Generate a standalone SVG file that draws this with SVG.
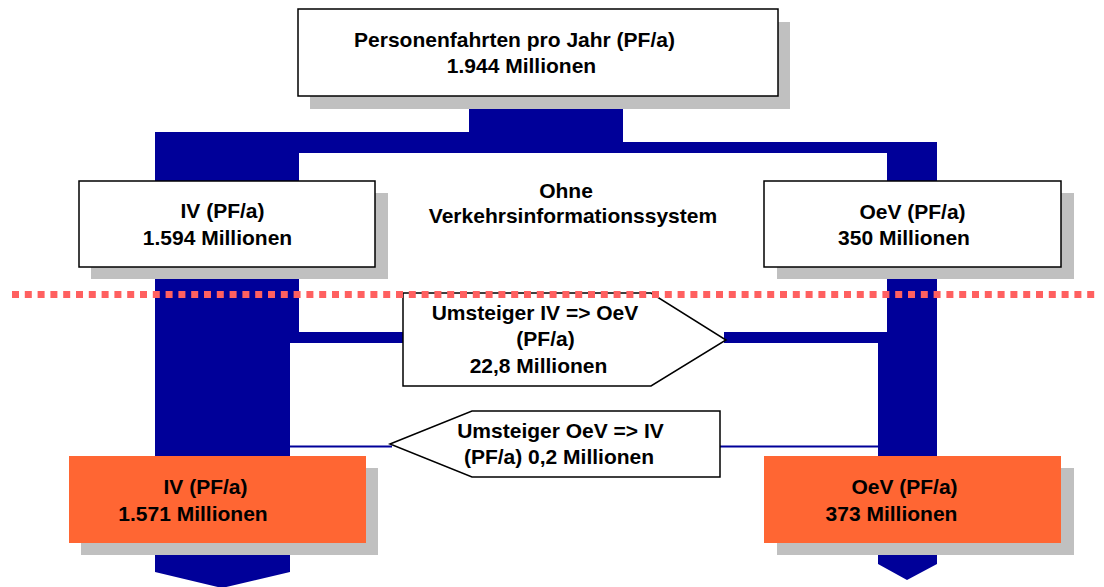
<svg xmlns="http://www.w3.org/2000/svg" width="1104" height="587" viewBox="0 0 1104 587">
<style>
.t{font-family:"Liberation Sans",Arial,sans-serif;font-weight:bold;font-size:21px;fill:#000;text-anchor:middle}
.box{fill:#fff;stroke:#000;stroke-width:1.5}
.res{fill:#FF6633;stroke:none}
.sh{fill:#C0C0C0}
.flow{fill:#000099}
.thin{stroke:#000099;stroke-width:2;fill:none}
.pent{fill:#fff;stroke:#000;stroke-width:1.5}
</style>
<rect width="1104" height="587" fill="#fff"/>
<g id="connectors">
  <rect class="flow" x="469" y="90" width="154" height="63"/>
  <rect class="flow" x="155" y="132" width="314" height="21"/>
  <rect class="flow" x="623" y="142" width="314" height="11"/>
  <path class="flow" d="M155,132 H299 V332 H404 V343 H290 V572 L222,588 L155,572 Z"/>
  <path class="flow" d="M887,142 H937 V564 L907,580 L878,564 V332 H887 Z"/>
  <rect class="flow" x="724" y="332" width="164" height="11"/>
  <line class="thin" x1="290" y1="446.5" x2="392" y2="446.5"/>
  <line class="thin" x1="719" y1="446.5" x2="879" y2="446.5"/>
</g>
<g id="node-total">
  <rect class="sh" x="310" y="22" width="480" height="87"/>
  <rect class="box" x="298" y="9" width="480" height="87"/>
  <text class="t" x="514.5" y="47">Personenfahrten pro Jahr (PF/a)</text>
  <text class="t" x="521.5" y="73">1.944 Millionen</text>
</g>
<g id="node-iv">
  <rect class="sh" x="91" y="193" width="297" height="86"/>
  <rect class="box" x="79" y="181" width="296" height="86"/>
  <text class="t" x="222.5" y="218">IV (PF/a)</text>
  <text class="t" x="217.5" y="245">1.594 Millionen</text>
</g>
<g id="node-oev">
  <rect class="sh" x="777" y="193" width="297" height="86"/>
  <rect class="box" x="764" y="181" width="297" height="86"/>
  <text class="t" x="912.5" y="219">OeV (PF/a)</text>
  <text class="t" x="904" y="245">350 Millionen</text>
</g>
<g id="label-ohne">
  <text class="t" x="566" y="198">Ohne</text>
  <text class="t" x="573" y="223">Verkehrsinformationssystem</text>
</g>
<g id="node-iv-oev">
  <polygon class="pent" points="403,293 651,293 726,340 651,386 403,386"/>
  <text class="t" x="535" y="320">Umsteiger IV =&gt; OeV</text>
  <text class="t" x="545.5" y="346">(PF/a)</text>
  <text class="t" x="538.5" y="373">22,8 Millionen</text>
</g>
<g id="divider">
  <line x1="12" y1="294.5" x2="1100" y2="294.5" stroke="#FF6060" stroke-width="7" stroke-dasharray="7 5.8"/>
</g>
<g id="node-oev-iv">
  <polygon class="pent" points="390,444 472,411 720,411 720,477 472,477"/>
  <text class="t" x="560.5" y="438">Umsteiger OeV =&gt; IV</text>
  <text class="t" x="559" y="464">(PF/a) 0,2 Millionen</text>
</g>
<g id="node-iv-result">
  <rect class="sh" x="81" y="468" width="297" height="87"/>
  <rect class="res" x="69" y="456" width="297" height="87"/>
  <text class="t" x="205.5" y="494">IV (PF/a)</text>
  <text class="t" x="193" y="521">1.571 Millionen</text>
</g>
<g id="node-oev-result">
  <rect class="sh" x="777" y="468" width="297" height="87"/>
  <rect class="res" x="764" y="456" width="297" height="87"/>
  <text class="t" x="904.5" y="494">OeV (PF/a)</text>
  <text class="t" x="891.5" y="521">373 Millionen</text>
</g>
</svg>
